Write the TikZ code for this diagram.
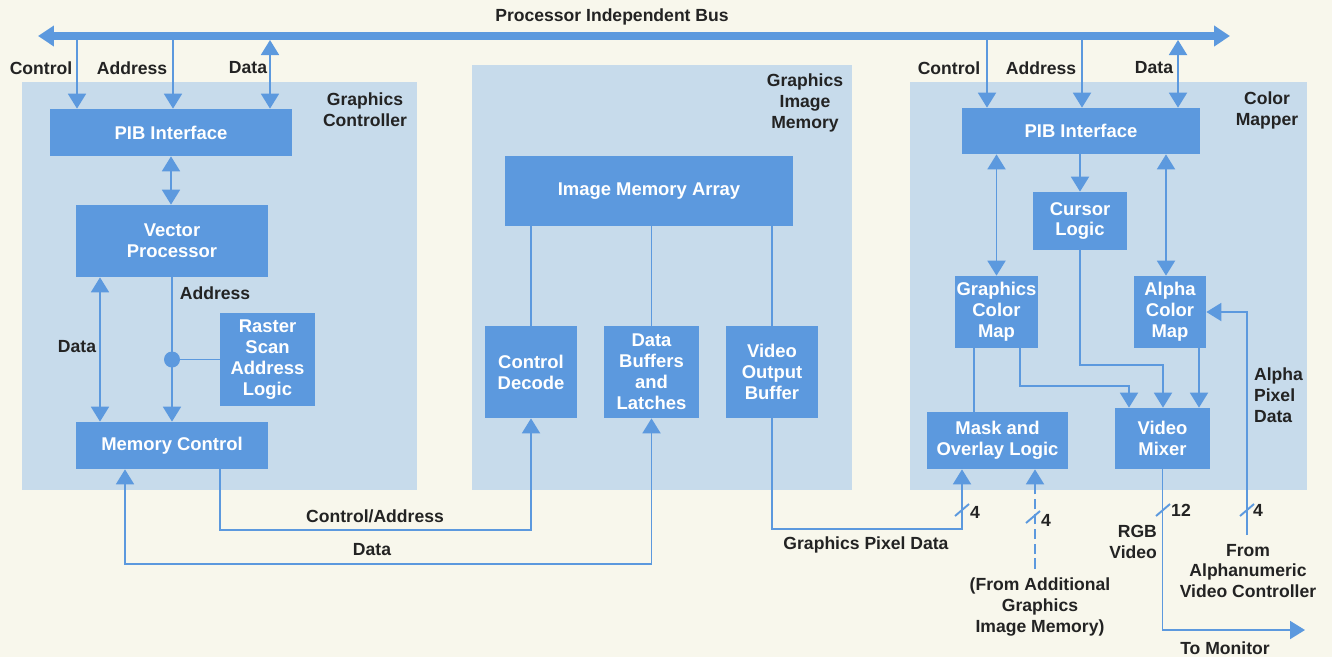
\documentclass[tikz,border=0pt]{standalone}
\usepackage{fontspec}
\setmainfont{Liberation Sans}
\usepackage{tikz}
\usetikzlibrary{arrows.meta}
\definecolor{paper}{RGB}{248,247,236}
\definecolor{panelc}{RGB}{199,219,235}
\definecolor{boxc}{RGB}{92,153,222}
\definecolor{inkc}{RGB}{35,35,35}
\tikzset{
        blk/.style 2 args={fill=boxc, text=white, font=\fontsize{10.5}{11.9}\selectfont\bfseries,
                align=center, inner sep=0pt, minimum width=#1*0.02cm, minimum height=#2*0.02cm},
        lbl/.style={text=inkc, font=\fontsize{10}{11.9}\selectfont\bfseries, align=center, inner sep=1pt},
        ln/.style={draw=boxc, line width=1.1pt},
        arr/.style={ln, -{Triangle[width=0.36cm,length=0.3cm]}},
        darr/.style={ln, {Triangle[width=0.36cm,length=0.3cm]}-{Triangle[width=0.36cm,length=0.3cm]}},
        bus/.style={draw=boxc, line width=4.5pt, {Triangle[width=0.4cm,length=0.32cm]}-{Triangle[width=0.4cm,length=0.32cm]}},
        dot/.style={circle, fill=boxc, inner sep=0pt, minimum size=0.32cm}
}
\begin{document}
\begin{tikzpicture}[x=0.02cm, y=-0.02cm]
        \fill[paper] (0,0) rectangle (1332,657);
        \useasboundingbox (0,0) rectangle (1332,657);
        \fill[panelc] (22,82) rectangle (417,490);
        \fill[panelc] (472,65) rectangle (852,490);
        \fill[panelc] (910,82) rectangle (1307,490);

        \coordinate (busL) at (38,36);
        \coordinate (busR) at (1230,36);
        \draw[bus] (busL) -- (busR);
        \node[lbl] (pibT) at (612,17) {Processor Independent Bus};

        % graphics controller
        \node[blk={242}{47}] (lpib) at (171,132.5) {PIB Interface};
        \node[blk={192}{72}] (vec) at (172,241) {Vector\\Processor};
        \node[blk={95}{93}] (raster) at (267.5,359.5) {Raster\\Scan\\Address\\Logic};
        \node[blk={192}{47}] (memctl) at (172,445.5) {Memory Control};

        % graphics image memory
        \node[blk={288}{70}] (ima) at (649,191) {Image Memory Array};
        \node[blk={92}{92}] (cdec) at (531,372) {Control\\Decode};
        \node[blk={95}{92}] (dbuf) at (651.5,372) {Data\\Buffers\\and\\Latches};
        \node[blk={92}{92}] (vob) at (772,372) {Video\\Output\\Buffer};

        % color mapper
        \node[blk={238}{46}] (rpib) at (1081,131) {PIB Interface};
        \node[blk={94}{58}] (cur) at (1080,221) {Cursor\\Logic};
        \node[blk={83}{72}] (gcm) at (996.5,312) {Graphics\\Color\\Map};
        \node[blk={72}{72}] (acm) at (1170,312) {Alpha\\Color\\Map};
        \node[blk={141}{57}] (mask) at (997.5,440.5) {Mask and\\Overlay Logic};
        \node[blk={95}{61}] (vmix) at (1162.5,438.5) {Video\\Mixer};

        % bus taps
        \coordinate (lctl) at (77,36);
        \coordinate (ladd) at (173,36);
        \coordinate (ldat) at (270,40);
        \coordinate (rctl) at (987,36);
        \coordinate (radd) at (1082,36);
        \coordinate (rdat) at (1178,40);
        \draw[arr] (lctl) -- (lctl |- lpib.north);
        \draw[arr] (ladd) -- (ladd |- lpib.north);
        \draw[darr] (ldat) -- (ldat |- lpib.north);
        \draw[arr] (rctl) -- (rctl |- rpib.north);
        \draw[arr] (radd) -- (radd |- rpib.north);
        \draw[darr] (rdat) -- (rdat |- rpib.north);

        \draw[darr] (lpib.south) -- (lpib.south |- vec.north);
        \draw[darr] (vec.south -| 100,0) -- (memctl.north -| 100,0);
        \draw[arr] (vec.south) -- (memctl.north);
        \node[dot] (jn) at (vec.south |- raster.west) {};
        \draw[ln] (jn) -- (raster.west);

        \coordinate (ca) at (220,530);
        \coordinate (dl) at (125,564);
        \draw[arr] (memctl.south -| ca) -- (ca) -| (cdec.south);
        \draw[darr] (memctl.south -| dl) -- (dl) -| (dbuf.south);

        \foreach \b in {cdec,dbuf,vob}
        {
            \draw[ln] (ima.south -| \b.north) -- (\b.north);
        }

        \coordinate (gpx) at (962,529);
        \coordinate (adm) at (1035,569);
        \draw[arr] (vob.south) |- (gpx) -- (gpx |- mask.south);
        \draw[arr, dash pattern=on 6pt off 2.5pt] (adm) -- (adm |- mask.south);

        \draw[darr] (rpib.south -| gcm.north) -- (gcm.north);
        \draw[darr] (rpib.south -| 1166,0) -- (acm.north -| 1166,0);
        \draw[arr] (rpib.south -| cur.north) -- (cur.north);
        \draw[ln] (gcm.south -| 974,0) -- (mask.north -| 974,0);
        \coordinate (gv) at (1129,386);
        \coordinate (cv) at (1163,365);
        \draw[arr] (gcm.south -| 1020,0) |- (gv) -- (gv |- vmix.north);
        \draw[arr] (cur.south) |- (cv) -- (cv |- vmix.north);
        \draw[arr] (acm.south -| 1199,0) -- (vmix.north -| 1199,0);

        \coordinate (apd) at (1247,535);
        \coordinate (mon) at (1305,630);
        \draw[arr] (apd) |- (acm.east);
        \draw[arr] (vmix.south) |- (mon);

        \foreach \p in {(962,510),(1033,517),(1163,510),(1247,510)}
        {
            \draw[ln] \p ++(-7,6) -- ++(14,-12);
        }

        % labels
        \node[lbl] (lctlT) at (41,68) {Control};
        \node[lbl] (laddT) at (132,68) {Address};
        \node[lbl] (ldatT) at (248,68) {Data};
        \node[lbl] (rctlT) at (949,68) {Control};
        \node[lbl] (raddT) at (1041,68) {Address};
        \node[lbl] (rdatT) at (1154,68) {Data};
        \node[lbl] (gcT) at (365,110) {Graphics\\Controller};
        \node[lbl] (gimT) at (805,103) {Graphics\\Image\\Memory};
        \node[lbl] (cmT) at (1267,110) {Color\\Mapper};
        \node[lbl] (vaddT) at (215,293) {Address};
        \node[lbl] (vdatT) at (77,347) {Data};
        \node[lbl] (caT) at (375,516) {Control/Address};
        \node[lbl] (daT) at (372,550) {Data};
        \node[lbl] (gpdT) at (866,545) {Graphics Pixel Data};
        \node[lbl] (n4a) at (975,512) {4};
        \node[lbl] (n4b) at (1046,520) {4};
        \node[lbl] (n12) at (1181,510) {12};
        \node[lbl] (n4c) at (1258,510) {4};
        \node[lbl, anchor=east, align=right] (rgbT) at (1159,542) {RGB\\Video};
        \node[lbl] (addT) at (1040,607) {(From Additional\\Graphics\\Image Memory)};
        \node[lbl] (aluT) at (1248,571) {From\\Alphanumeric\\Video Controller};
        \node[lbl] (monT) at (1225,648) {To Monitor};
        \node[lbl, anchor=west, align=left] (apdT) at (1252,395) {Alpha\\Pixel\\Data};
\end{tikzpicture}
\end{document}
